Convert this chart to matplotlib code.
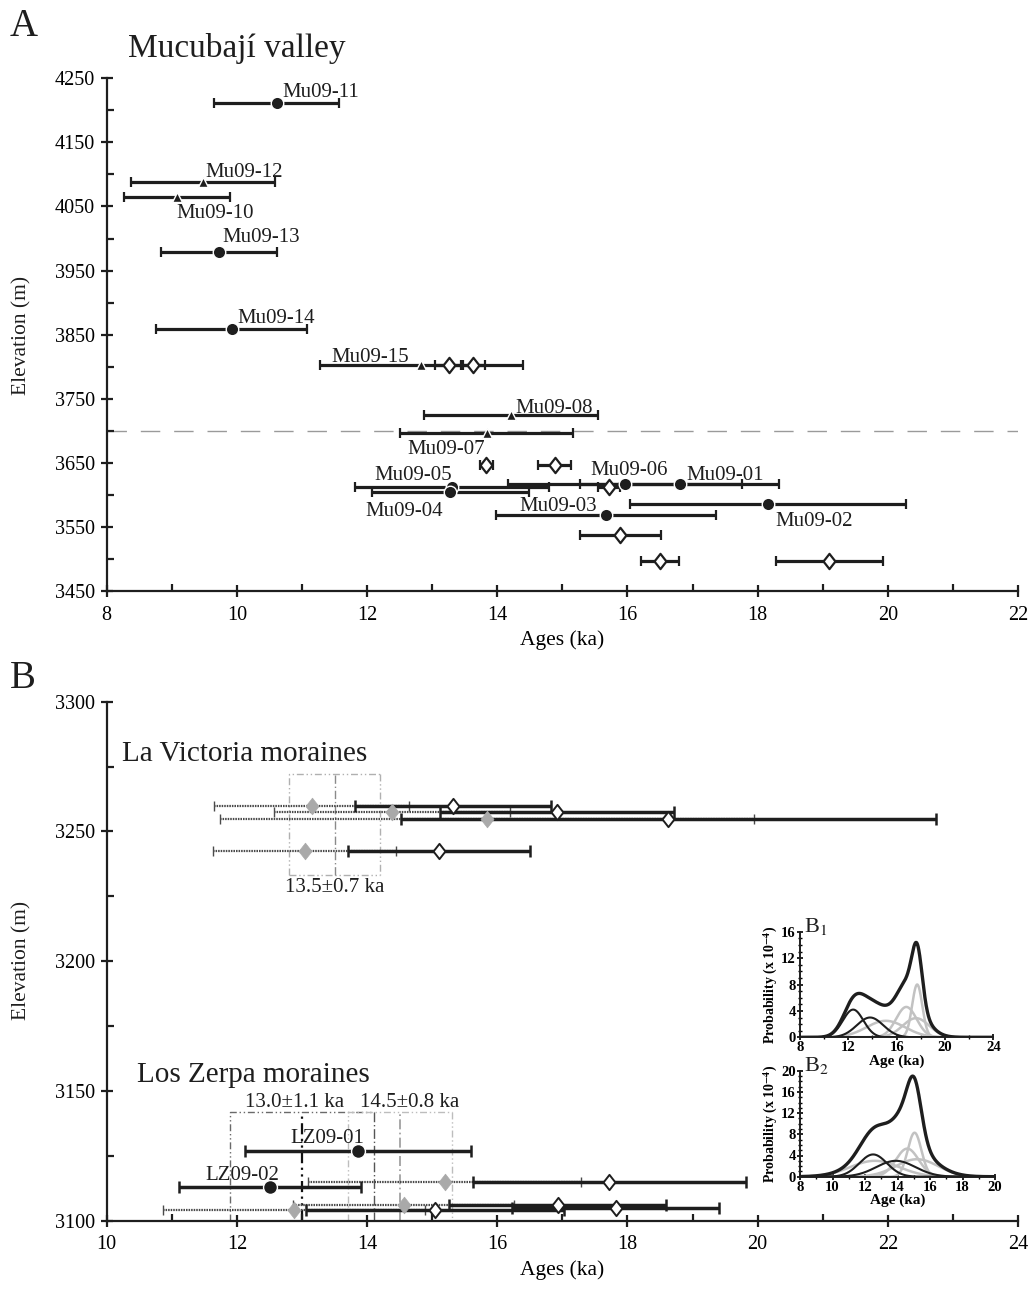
import matplotlib
matplotlib.use('Agg')
import matplotlib.pyplot as plt
import numpy as np
from matplotlib.path import Path
from matplotlib.ticker import MultipleLocator

plt.rcParams['font.family'] = ['Liberation Serif', 'DejaVu Serif']
plt.rcParams['mathtext.fontset'] = 'stix'

# ---------------- data: panel A (Mucubají valley) ----------------
circ_names = ['Mu09-11', 'Mu09-13', 'Mu09-14', 'Mu09-05', 'Mu09-04',
              'Mu09-06', 'Mu09-01', 'Mu09-03', 'Mu09-02']
circ_age = [10.61, 9.73, 9.92, 13.31, 13.28, 15.96, 16.80, 15.67, 18.16]
circ_err = [0.96, 0.89, 1.16, 1.49, 1.20, 1.80, 1.53, 1.69, 2.12]
circ_elev = [4212, 3979, 3859, 3613, 3604, 3617, 3617, 3569, 3586]

tri_names = ['Mu09-12', 'Mu09-10', 'Mu09-15', 'Mu09-08', 'Mu09-07']
tri_age = [9.48, 9.08, 12.83, 14.21, 13.84]
tri_err = [1.11, 0.82, 1.56, 1.33, 1.33]
tri_elev = [4088, 4065, 3802, 3725, 3697]

dia_age = [13.26, 13.63, 13.83, 14.88, 15.71, 15.89, 16.50, 19.10]
dia_err = [0.22, 0.18, 0.10, 0.26, 0.17, 0.62, 0.29, 0.82]
dia_elev = [3802, 3802, 3647, 3647, 3612, 3537, 3497, 3497]

ela_A = 3700

# ---------------- data: panel B ----------------
lv_grey_age = [13.15, 14.38, 15.84, 13.04]
lv_grey_err = [1.50, 1.81, 4.10, 1.40]
lv_grey_elev = [3260, 3257.4, 3254.8, 3242.5]
lv_white_age = [15.32, 16.92, 18.63, 15.11]
lv_white_err = [1.50, 1.80, 4.11, 1.40]
lv_white_elev = [3260, 3257.4, 3254.8, 3242.5]

lz_names = ['LZ09-01', 'LZ09-02']
lz_circ_age = [13.86, 12.51]
lz_circ_err = [1.73, 1.40]
lz_circ_elev = [3127, 3113]

lz_grey_age = [15.19, 14.56, 12.88]
lz_grey_err = [2.09, 1.70, 2.01]
lz_grey_elev = [3115, 3106, 3104]
lz_white_age = [17.72, 16.93, 15.04, 17.82]
lz_white_err = [2.10, 1.67, 1.98, 1.59]
lz_white_elev = [3115, 3106, 3104, 3105]

lv_box = (13.5, 0.7)
lz_box1 = (13.0, 1.1)
lz_box2 = (14.5, 0.8)

# ---------------- data: insets (probability components) ----------------
b1_black_mu = [12.4, 13.8]
b1_black_sd = [0.85, 1.1]
b1_black_pk = [4.2, 3.0]
b1_grey_mu = [15.1, 16.8, 17.7, 17.6]
b1_grey_sd = [1.6, 0.85, 0.42, 1.1]
b1_grey_pk = [2.5, 4.6, 8.0, 2.9]

b2_black_mu = [12.5, 13.9]
b2_black_sd = [0.85, 1.2]
b2_black_pk = [4.2, 3.0]
b2_grey_mu = [12.6, 14.6, 15.05, 15.2]
b2_grey_sd = [1.5, 0.7, 0.42, 1.3]
b2_grey_pk = [3.0, 5.3, 8.3, 3.3]

# ---------------- figure layout ----------------
W, H = 1029, 1290
fig = plt.figure(figsize=(W / 100, H / 100), dpi=100)


def fx(px):
    return px / W


def fy(py):
    return 1 - py / H


dia_path = Path([(0, 1), (0.78, 0), (0, -1), (-0.78, 0), (0, 1)],
                [Path.MOVETO, Path.LINETO, Path.LINETO, Path.LINETO, Path.CLOSEPOLY])

BLK = '#1e1e1e'


def style_main(ax):
    for s in ['top', 'right']:
        ax.spines[s].set_visible(False)
    for s in ['left', 'bottom']:
        ax.spines[s].set_linewidth(1.6)
        ax.spines[s].set_color(BLK)
    ax.tick_params(which='major', direction='inout', length=9, width=1.6,
                   labelsize=14.5, pad=4, color=BLK)
    ax.tick_params(which='minor', direction='in', length=5, width=1.6, color=BLK)
    ax.tick_params(axis='x', which='major', pad=6)


def ebar(ax, x, y, err, color, lw, cap, capw, z, ls=None):
    eb = ax.errorbar(x, y, xerr=err, fmt='none', ecolor=color, elinewidth=lw,
                     capsize=cap, capthick=capw, zorder=z)
    if ls is not None:
        for lc in eb.lines[2]:
            lc.set_linestyle(ls)
    return eb


# ================= Panel A =================
axA = fig.add_axes([fx(106.7), fy(591), (1018 - 106.7) / W, (591 - 78.3) / H])
axA.set_xlim(8, 22)
axA.set_ylim(3450, 4250)
style_main(axA)
axA.xaxis.set_major_locator(MultipleLocator(2))
axA.xaxis.set_minor_locator(MultipleLocator(1))
axA.set_yticks(np.arange(3450, 4251, 100))
axA.yaxis.set_minor_locator(MultipleLocator(50))
axA.set_xlabel('Ages (ka)', fontsize=15.5, labelpad=4)

axA.axhline(ela_A, color='#9a9a9a', lw=1.0, dashes=(14, 10), zorder=1)

ebar(axA, circ_age, circ_elev, circ_err, BLK, 2.3, 3.5, 1.6, 3)
ebar(axA, tri_age, tri_elev, tri_err, BLK, 2.3, 3.5, 1.6, 3)
ebar(axA, dia_age, dia_elev, dia_err, BLK, 2.3, 3.5, 1.6, 3)
axA.plot(circ_age, circ_elev, 'o', ms=9, mfc=BLK, mec='white', mew=1.0, ls='none', zorder=5)
axA.plot(tri_age, tri_elev, '^', ms=7, mfc=BLK, mec='white', mew=1.0, ls='none', zorder=5)
axA.plot(dia_age, dia_elev, marker=dia_path, ms=11, mfc='white', mec=BLK, mew=1.6,
         ls='none', zorder=6)

labA_off = {'Mu09-11': (4.3, 3.9, 'left'), 'Mu09-12': (1.9, 3.4, 'left'),
            'Mu09-10': (-0.4, -15.3, 'left'), 'Mu09-13': (1.9, 7.0, 'left'),
            'Mu09-14': (4.3, 4.5, 'left'), 'Mu09-15': (-8.4, 2.2, 'right'),
            'Mu09-08': (3.4, 1.4, 'left'), 'Mu09-07': (-1.1, -15.6, 'right'),
            'Mu09-05': (0.0, 4.8, 'right'), 'Mu09-04': (-5.0, -17.3, 'right'),
            'Mu09-06': (2.9, 6.5, 'center'), 'Mu09-01': (4.8, 2.9, 'left'),
            'Mu09-03': (-6.8, 2.4, 'right'), 'Mu09-02': (5.0, -16.3, 'left')}
for names, ages, elevs in [(circ_names, circ_age, circ_elev), (tri_names, tri_age, tri_elev)]:
    for n, a, e in zip(names, ages, elevs):
        dx, dy, ha = labA_off[n]
        axA.annotate(n, (a, e), xytext=(dx, dy), textcoords='offset points',
                     ha=ha, va='baseline', fontsize=15, color=BLK, zorder=7)

fig.text(fx(10), fy(36), 'A', fontsize=28, color=BLK)
fig.text(fx(128), fy(57), 'Mucubají valley', fontsize=24, color=BLK)
fig.text(fx(22), fy(335), 'Elevation (m)', rotation=90, fontsize=15.5,
         ha='center', va='center', color=BLK)

# ================= Panel B =================
axB = fig.add_axes([fx(106.7), fy(1220.7), (1018 - 106.7) / W, (1220.7 - 701.7) / H])
axB.set_xlim(10, 24)
axB.set_ylim(3100, 3300)
style_main(axB)
axB.xaxis.set_major_locator(MultipleLocator(2))
axB.xaxis.set_minor_locator(MultipleLocator(1))
axB.yaxis.set_major_locator(MultipleLocator(50))
axB.yaxis.set_minor_locator(MultipleLocator(25))
axB.set_xlabel('Ages (ka)', fontsize=15.5, labelpad=4)
fig.text(fx(22), fy(960), 'Elevation (m)', rotation=90, fontsize=15.5,
         ha='center', va='center', color=BLK)
fig.text(fx(10), fy(688), 'B', fontsize=28, color=BLK)

dotted = (0, (0.7, 0.45))
GREYBAR = '#4a4a4a'
GREYDIA = '#a9a9a9'


def box(ax, c, hw, y0, y1, center, ecol, ccol, clw=1.0, rcol=None, rdash=None):
    dd = (5, 2, 1, 2, 1, 2)
    ax.plot([c - hw, c - hw, c + hw], [y0, y1, y1], color=ecol, lw=1.0, dashes=dd, zorder=1)
    ax.plot([c + hw, c + hw], [y1, y0], color=rcol or ecol, lw=1.0,
            dashes=rdash or dd, zorder=1)
    ax.plot([c - hw, c + hw], [y0, y0], color=ecol, lw=1.0, dashes=dd, zorder=1)
    ax.plot([c, c], [y0, y1], color=ccol, lw=clw, dashes=center, zorder=1)


box(axB, lv_box[0], lv_box[1], 3233.1, 3272.2, (6, 2, 1, 2), '#b0b0b0', '#8a8a8a', 1.0)
box(axB, lz_box1[0], lz_box1[1], 3100, 3142, (5, 2, 1, 2, 1, 2), '#6a6a6a', '#111111', 1.6,
    rcol='#555555', rdash=(7, 2, 1, 2))
box(axB, lz_box2[0], lz_box2[1], 3100, 3142, (6, 2, 1, 2), '#bdbdbd', '#9a9a9a', 1.2)

axB.annotate('13.5±0.7 ka', (lv_box[0], 3233.1), xytext=(0, -12), textcoords='offset points',
             ha='center', va='baseline', fontsize=15, color=BLK)
axB.annotate('13.0±1.1 ka', (lz_box1[0], 3142), xytext=(-5.6, 3.2), textcoords='offset points',
             ha='center', va='baseline', fontsize=15, color=BLK)
axB.annotate('14.5±0.8 ka', (lz_box2[0], 3142), xytext=(7.5, 3.2), textcoords='offset points',
             ha='center', va='baseline', fontsize=15, color=BLK)

ebar(axB, lv_grey_age, lv_grey_elev, lv_grey_err, GREYBAR, 1.6, 3.5, 1.0, 2, ls=dotted)
ebar(axB, lz_grey_age, lz_grey_elev, lz_grey_err, GREYBAR, 1.6, 3.5, 1.0, 2, ls=dotted)
ebar(axB, lv_white_age, lv_white_elev, lv_white_err, BLK, 2.5, 4.0, 1.8, 3)
ebar(axB, lz_white_age, lz_white_elev, lz_white_err, BLK, 2.5, 4.0, 1.8, 3)
ebar(axB, lz_circ_age, lz_circ_elev, lz_circ_err, BLK, 2.5, 4.0, 1.8, 3)

axB.plot(lv_grey_age, lv_grey_elev, marker=dia_path, ms=12, mfc=GREYDIA, mec=GREYDIA,
         mew=0.5, ls='none', zorder=4)
axB.plot(lz_grey_age, lz_grey_elev, marker=dia_path, ms=12, mfc=GREYDIA, mec=GREYDIA,
         mew=0.5, ls='none', zorder=4)
axB.plot(lv_white_age, lv_white_elev, marker=dia_path, ms=11, mfc='white', mec=BLK,
         mew=1.4, ls='none', zorder=5)
axB.plot(lz_white_age, lz_white_elev, marker=dia_path, ms=11, mfc='white', mec=BLK,
         mew=1.4, ls='none', zorder=5)
axB.plot(lz_circ_age, lz_circ_elev, 'o', ms=10, mfc=BLK, mec='white', mew=1.0,
         ls='none', zorder=6)

labB_off = {'LZ09-01': (4.8, 5.8), 'LZ09-02': (6.5, 4.8)}
for n, a, e in zip(lz_names, lz_circ_age, lz_circ_elev):
    dx, dy = labB_off[n]
    axB.annotate(n, (a, e), xytext=(dx, dy), textcoords='offset points',
                 ha='right', va='baseline', fontsize=15, color=BLK, zorder=7)

axB.text(10.23, 3277, 'La Victoria moraines', fontsize=21, color=BLK)
axB.text(10.46, 3153.6, 'Los Zerpa moraines', fontsize=21, color=BLK)


# ================= Insets =================
def gauss(x, mu, sd, pk):
    return pk * np.exp(-0.5 * ((x - mu) / sd) ** 2)


def inset(rect, xlim, ylim, xticks, xminor, bm, bs, bp, gm, gs, gp, lab):
    ax = fig.add_axes(rect)
    ax.set_xlim(*xlim)
    ax.set_ylim(*ylim)
    for s in ['top', 'right']:
        ax.spines[s].set_visible(False)
    for s in ['left', 'bottom']:
        ax.spines[s].set_linewidth(1.4)
        ax.spines[s].set_color(BLK)
    x = np.linspace(xlim[0], xlim[1], 600)
    total = np.zeros_like(x)
    for m, s, p in zip(gm, gs, gp):
        y = gauss(x, m, s, p)
        total += y
        ax.plot(x, y, color='#c2c2c2', lw=1.8, zorder=2)
    for m, s, p in zip(bm, bs, bp):
        y = gauss(x, m, s, p)
        total += y
        ax.plot(x, y, color=BLK, lw=1.5, zorder=3)
    ax.plot(x, total, color=BLK, lw=2.4, zorder=4)
    yt = np.arange(0, ylim[1] + 1, 4)
    ax.set_xticks(xticks, labels=[str(t) for t in xticks], fontweight='bold')
    ax.set_yticks(yt, labels=[str(int(t)) for t in yt], fontweight='bold')
    ax.xaxis.set_minor_locator(MultipleLocator(xminor))
    ax.yaxis.set_minor_locator(MultipleLocator(1))
    ax.tick_params(which='major', direction='inout', length=5, width=1.2, labelsize=10.5, pad=0.5)
    ax.tick_params(which='minor', direction='inout', length=3, width=1.0)
    ax.set_xlabel('Age (ka)', fontsize=11, fontweight='bold', labelpad=0)
    ax.set_ylabel(r'Probability (x 10$^{\mathbf{-4}}$)', fontsize=10, fontweight='bold', labelpad=1)
    ax.text(0.02, 1.0, lab, transform=ax.transAxes, fontsize=16, va='baseline', color=BLK)
    ax.patch.set_alpha(0)
    return ax


inset([fx(800), fy(1037.3), (993.3 - 800) / W, (1037.3 - 931.7) / H], (8, 24), (0, 16),
      [8, 12, 16, 20, 24], 2, b1_black_mu, b1_black_sd, b1_black_pk,
      b1_grey_mu, b1_grey_sd, b1_grey_pk, r'B$_1$')
inset([fx(800), fy(1176.7), (995 - 800) / W, (1176.7 - 1070.7) / H], (8, 20), (0, 20),
      [8, 10, 12, 14, 16, 18, 20], 1, b2_black_mu, b2_black_sd, b2_black_pk,
      b2_grey_mu, b2_grey_sd, b2_grey_pk, r'B$_2$')

fig.savefig('out.png', dpi=100)
